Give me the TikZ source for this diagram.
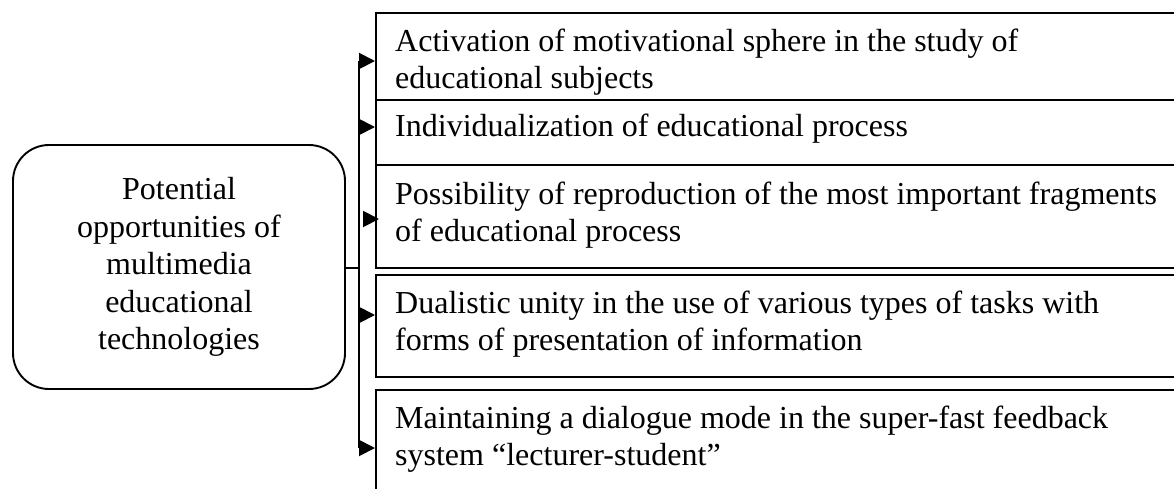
\documentclass[tikz,border=0pt]{standalone}
\usepackage{fontspec}
\setmainfont{Liberation Serif}
\usetikzlibrary{arrows.meta}
\begin{document}
\begin{tikzpicture}[x=1pt,y=-1pt,
  box/.style={draw, line width=1.9pt, rectangle, anchor=north west, inner sep=0pt, minimum width=830pt},
  txt/.style={anchor=base west, align=left, inner sep=0pt, font=\fontsize{32}{37}\selectfont},
  mainbox/.style={draw, line width=1.9pt, rounded corners=36pt, align=center, inner sep=0pt,
    minimum width=332pt, minimum height=244pt, font=\fontsize{32}{37.5}\selectfont},
  conn/.style={line width=1.9pt},
  arr/.style={line width=1.9pt, -{Triangle[length=16pt,width=16pt]}}]
\useasboundingbox (0,0) rectangle (1174,488);
\clip (0,0) rectangle (1174,488);
% main box
\node[mainbox] (main) at (179,267) {Potential\\opportunities of\\multimedia\\educational\\technologies};
% right boxes
\node[box, minimum height=87pt] (b1) at (375,12) {};
\node[box, minimum height=65pt] (b2) at (375,99) {};
\node[box, minimum height=103pt] (b3) at (375,164) {};
\node[box, minimum height=102pt] (b4) at (375,274) {};
\node[box, minimum height=115pt] (b5) at (375,389) {};
% texts (anchored at the baseline of their last line)
\node[txt] (t1) at (395,88) {Activation of motivational sphere in the study of\\educational subjects};
\node[txt] (t2) at (395,136) {Individualization of educational process};
\node[txt] (t3) at (395,241) {Possibility of reproduction of the most important fragments\\of educational process};
\node[txt] (t4) at (395,350) {Dualistic unity in the use of various types of tasks with\\forms of presentation of information};
\node[txt] (t5) at (395,465) {Maintaining a dialogue mode in the super-fast feedback\\system “lecturer-student”};
% bracket
\coordinate (jm) at (359,268);
\coordinate (j1) at (359,61);
\coordinate (j2) at (359,127);
\coordinate (a3) at (364,219);
\coordinate (j4) at (359,315);
\coordinate (j5) at (359,448);
\draw[conn] (main.east |- jm) -- (jm);
\draw[conn] (j1) -- (j5);
\draw[arr] (j1) -- (j1 -| b1.west);
\draw[arr] (j2) -- (j2 -| b2.west);
\draw[arr] (a3) -- ([xshift=4pt]a3 -| b3.west);
\draw[arr] (j4) -- (j4 -| b4.west);
\draw[arr] (j5) -- (j5 -| b5.west);
\end{tikzpicture}
\end{document}
